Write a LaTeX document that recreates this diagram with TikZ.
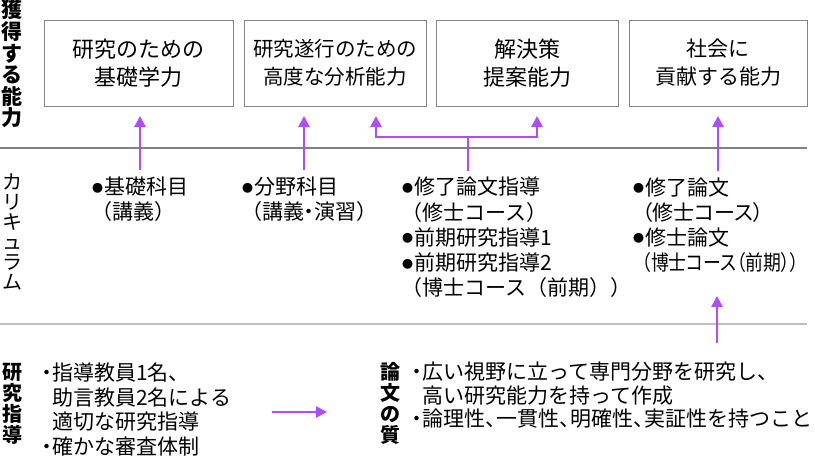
\documentclass[tikz,border=0pt]{standalone}
\usepackage{graphicx}
\usepackage{fontspec}
\setmainfont{Noto Sans CJK JP}
\newfontfamily\jpp{Noto Sans CJK JP}[RawFeature=+palt]
\usetikzlibrary{arrows.meta,calc}
\definecolor{arrc}{HTML}{B04CFF}
\definecolor{boxc}{HTML}{858585}
\definecolor{lineA}{HTML}{808080}
\definecolor{lineB}{HTML}{BEBEBE}
\newcommand\mybul{\makebox[13pt][c]{\raisebox{2.5pt}{\fontsize{11}{11}\selectfont ●}}}
\newcommand\mydot{\makebox[10pt][c]{・}}
\newcommand\myind{\hspace*{10pt}}
\newcommand\hcomma{\makebox[11pt][l]{、}}
\begin{document}
\begin{tikzpicture}[x=1pt,y=-1pt,
  abox/.style={draw=boxc,line width=1pt,minimum height=86pt,inner sep=0pt,align=center,font=\fontsize{22}{28}\selectfont},
  cur/.style={anchor=west,inner sep=0pt,align=left,font=\fontsize{21}{25.2}\selectfont},
  bot/.style={anchor=west,inner sep=0pt,align=left},
  vlab/.style={inner sep=0pt,align=center},
  arr/.style={draw=arrc,line width=2.6pt,-{Triangle[length=11pt,width=11pt]}},
  arrl/.style={draw=arrc,line width=2.6pt},
]
\useasboundingbox (0,0) rectangle (815,459);
% boxes
\node[abox,minimum width=189pt] (b1) at (138.5,63) {研究のための\\基礎学力};
\node[abox,minimum width=182pt,font=\fontsize{20.5}{28}\selectfont] (b2) at (335,63) {研究遂行のための\\高度な分析能力};
\node[abox,minimum width=182pt] (b3) at (527,63) {解決策\\提案能力};
\node[abox,minimum width=178pt,font=\fontsize{21}{28}\selectfont] (b4) at (718,63) {社会に\\貢献する能力};
% separator lines
\coordinate (h1a) at (0,148); \coordinate (h1b) at (807,148);
\coordinate (h2a) at (0,324); \coordinate (h2b) at (807,324);
\draw[lineA,line width=1.3pt] (h1a) -- (h1b);
\draw[lineB,line width=2pt] (h2a) -- (h2b);
% vertical labels
\node[vlab,font=\bfseries\fontsize{21}{21.6}\selectfont] (L1) at (12,64) {獲\\得\\す\\る\\能\\力};
\node[vlab,font=\fontsize{20}{20}\selectfont] (L2) at (12,232) {カ\\リ\\キ\\ュ\\ラ\\ム};
\node[vlab,font=\bfseries\fontsize{20}{21}\selectfont] (L3) at (12,403.5) {研\\究\\指\\導};
\node[vlab,font=\bfseries\fontsize{20}{21}\selectfont] (L4) at (390,403.5) {論\\文\\の\\質};
% curriculum
\node[cur] (c1) at (91,199.5) {\mybul 基礎科目\\（講義）};
\node[cur] (c2) at (241,199.5) {\mybul 分野科目\\（講義{\jpp ・}演習）};
\node[cur] (c3) at (401,237.5) {\mybul 修了論文指導\\（修士コース）\\\mybul 前期研究指導1\\\mybul 前期研究指導2\\（博士コース（前期））};
\node[cur] (c4) at (632,225) {\mybul 修了論文\\\myind{\jpp （修士コース）}\\\mybul 修士論文\\\myind\scalebox{0.85}[1]{\jpp （博士コース（前期））}};
% bottom texts
\node[bot,font=\fontsize{21}{24.7}\selectfont] (g1) at (42,409.5) {\mydot 指導教員1名、\\\myind 助言教員2名による\\\myind 適切な研究指導\\\mydot 確かな審査体制};
\node[bot,font=\fontsize{21}{23.5}\selectfont] (q1) at (412,395.5) {\mydot 広い視野に立って専門分野を研究し、\\\myind 高い研究能力を持って作成\\\mydot 論理性\hcomma 一貫性\hcomma 明確性\hcomma 実証性を持つこと};
% arrows
\coordinate (t1) at ([xshift=1.5pt]b1.south);
\coordinate (t2) at ([xshift=-31pt]b2.south);
\coordinate (t4) at (b4.south);
\coordinate (j3) at (468,137);
\draw[arr,shorten <=6.5pt,shorten >=9.5pt] (c1.north -| t1) -- (t1);
\draw[arr,shorten <=6.5pt,shorten >=9.5pt] (c2.north -| t2) -- (t2);
\draw[arr,shorten <=6.5pt,shorten >=9.5pt] (c4.north -| t4) -- (t4);
\draw[arrl,shorten <=6.5pt] (c3.north -| j3) -- (j3);
\draw[arr,shorten >=9.5pt] (j3) -| ([xshift=41pt]b2.south);
\draw[arr,shorten >=9.5pt] (j3) -| ([xshift=10pt]b3.south);
\coordinate (u1) at (717,343); \coordinate (u2) at (717,296);
\draw[arr] (u1) -- (u2);
\coordinate (ha1) at (272,412); \coordinate (ha2) at (327,412);
\draw[arr] (ha1) -- (ha2);
\end{tikzpicture}
\end{document}
